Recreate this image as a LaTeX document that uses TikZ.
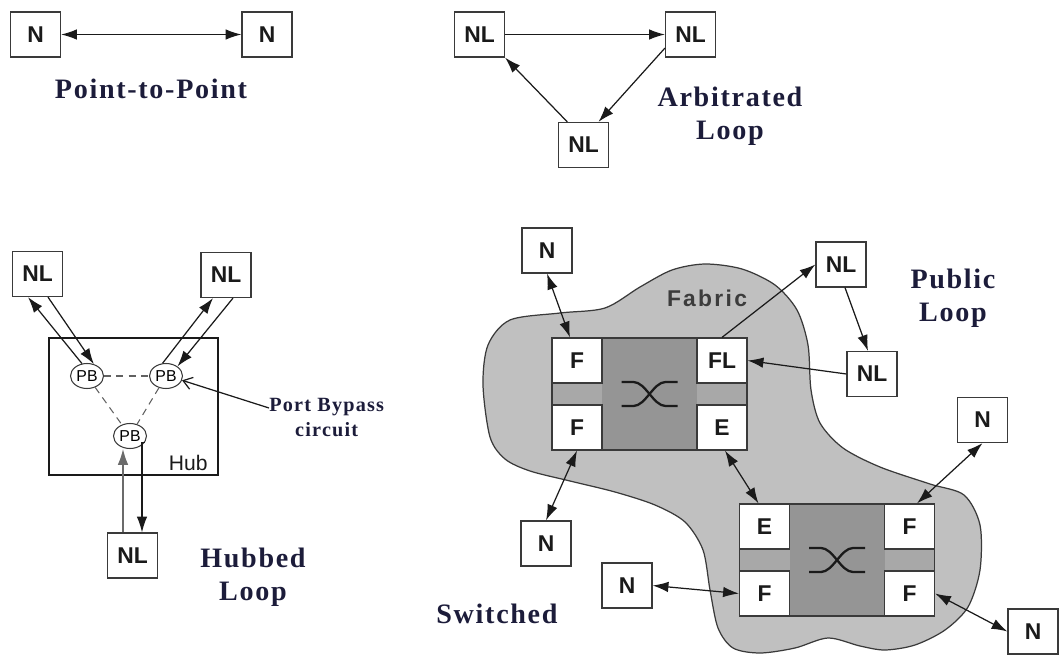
\documentclass[tikz,border=0pt]{standalone}
\usepackage{fontspec}
\usepackage{tikz}
\usetikzlibrary{arrows.meta,shapes.geometric}
\setmainfont{Liberation Serif}
\newfontfamily\boxfont{Liberation Sans}
\newfontfamily\tagfont[LetterSpace=10]{Liberation Sans}
\newfontfamily\capfont[LetterSpace=6]{Liberation Serif}

\begin{document}
\begin{tikzpicture}[x=0.02cm, y=-0.02cm]

% Colours
\definecolor{inkBlack}{HTML}{1A1A1A}
\definecolor{edgeGray}{HTML}{3A3A3A}
\definecolor{capNavy}{HTML}{1C1C3A}
\definecolor{fabricGray}{HTML}{C0C0C0}
\definecolor{bandGray}{HTML}{A8A8A8}
\definecolor{coreGray}{HTML}{959595}

\tikzset{
  box/.style={draw=edgeGray, fill=white, line width=0.7pt, minimum width=1cm,
    minimum height=0.9cm, inner sep=0pt, text=inkBlack,
    font=\boxfont\bfseries\fontsize{13}{15}\selectfont},
  pb/.style={ellipse, draw=edgeGray, fill=white, line width=0.6pt,
    minimum width=0.66cm, minimum height=0.5cm, inner sep=0pt,
    font=\boxfont\fontsize{9}{10}\selectfont},
  caption/.style={font=\capfont\bfseries\fontsize{16}{19}\selectfont,
    text=capNavy, align=center},
  link/.style={draw=inkBlack, line width=0.7pt},
  oneway/.style={-{Latex[length=9pt,width=6pt]}},
  twoway/.style={{Latex[length=9pt,width=6pt]}-{Latex[length=9pt,width=6pt]}},
  loopdash/.style={draw=edgeGray!80, line width=0.6pt, dash pattern=on 4pt off 3pt},
  xbar/.style={draw=inkBlack, line width=1.3pt},
}

\useasboundingbox (0,0) rectangle (1061,655);

% Point-to-Point
\node[box] (n1) at (35.5,34.5) {N};
\node[box] (n2) at (267,34.5) {N};
\draw[link, twoway] (n1) -- (n2);
\node[caption] (ptp) at (151,89) {Point-to-Point};

% Arbitrated Loop
\node[box] (al1) at (479.5,34.5) {NL};
\node[box] (al2) at (690.5,34.5) {NL};
\node[box] (al3) at (583.5,145) {NL};
\draw[link, oneway] (al1) -- (al2);
\draw[link, oneway] (al2.208) -- (al3.57);
\draw[link, oneway] (al3.125) -- (al1.south east);
\node[caption] (arb) at (730,116) {Arbitrated\\Loop};

% Hubbed Loop
\node[draw=inkBlack, line width=0.7pt, minimum width=3.38cm, minimum height=2.74cm] (hub) at (133.5,406.5) {};
\node[anchor=south east, inner sep=1pt, font=\boxfont\fontsize{12}{14}\selectfont, text=inkBlack]
  (hubname) at ([shift={(-0.18cm,0.06cm)}]hub.south east) {Hub};
\node[box] (hl1) at (37.5,274) {NL};
\node[box] (hl2) at (226,275) {NL};
\node[box] (hl3) at (132.5,555.5) {NL};
\node[pb] (pbA) at (87,376) {PB};
\node[pb] (pbB) at (166,376) {PB};
\node[pb] (pbC) at (130,436) {PB};
\draw[loopdash] (pbA) -- (pbB);
\draw[loopdash] (pbA) -- (pbC);
\draw[loopdash] (pbB) -- (pbC);
\draw[link, oneway] (pbA.112) -- ([xshift=-0.19cm]hl1.south);
\draw[link, oneway] ([xshift=0.21cm]hl1.south) -- (pbA.60);
\draw[link, oneway] (pbB.105) -- ([xshift=-0.26cm]hl2.south);
\draw[link, oneway] ([xshift=0.14cm]hl2.south) -- (pbB.40);
\draw[link, draw=edgeGray!75, oneway] ([xshift=-0.19cm]hl3.north) -- ([xshift=-0.19cm]hl3.north |- pbC.south);
\draw[link, oneway] (pbC.-25) -| ([xshift=0.19cm]hl3.north);
\node[anchor=north west, inner sep=0pt, align=center, text=capNavy,
  font=\capfont\bfseries\fontsize{11.5}{14}\selectfont] (pbnote) at (269,398) {Port Bypass\\circuit};
\draw[link, -{Straight Barb[length=5pt,width=7pt]}] ([yshift=-0.2cm]pbnote.north west) -- (pbB.-15);
\node[caption] (hubbed) at (253,577) {Hubbed\\Loop};

% Fabric
\draw[edgeGray, line width=0.7pt, fill=fabricGray] plot[smooth cycle] coordinates {
  (483,385) (488,345) (510,320) (560,313) (605,308) (640,287) (672,270) (705,264)
  (742,269) (775,285) (797,310) (808,345) (811,390) (820,423) (843,448) (880,467)
  (930,484) (964,495) (980,525) (980,570) (968,607) (945,630) (915,645) (885,650)
  (860,646) (828,638) (795,648) (760,653) (733,648) (718,628) (710,590) (703,550)
  (685,522) (655,505) (615,492) (570,481) (530,471) (505,459) (490,437)};
\node[font=\tagfont\bfseries\fontsize{13}{15}\selectfont, text=inkBlack!85] (fabric) at (707,298) {Fabric};

% Switch 1
\begin{scope}[shift={(649.5,394)}]
  \fill[bandGray] (-97.5,-56) rectangle (97.5,56);
  \fill[coreGray] (-47.5,-56) rectangle (47.5,56);
  \node[box] (s1a) at (-72.5,-33.5) {F};
  \node[box] (s1b) at (72.5,-33.5) {FL};
  \node[box] (s1c) at (-72.5,33.5) {F};
  \node[box] (s1d) at (72.5,33.5) {E};
  \draw[edgeGray, line width=0.7pt] (-97.5,-56) rectangle (97.5,56);
  \draw[xbar] (-28,-12) -- (-16,-12) .. controls (-4,-12) and (4,12) .. (16,12) -- (28,12);
  \draw[xbar] (-28,12) -- (-16,12) .. controls (-4,12) and (4,-12) .. (16,-12) -- (28,-12);
\end{scope}

% Switch 2
\begin{scope}[shift={(837,560)}]
  \fill[bandGray] (-97.5,-56) rectangle (97.5,56);
  \fill[coreGray] (-47.5,-56) rectangle (47.5,56);
  \node[box] (s2a) at (-72.5,-33.5) {E};
  \node[box] (s2b) at (72.5,-33.5) {F};
  \node[box] (s2c) at (-72.5,33.5) {F};
  \node[box] (s2d) at (72.5,33.5) {F};
  \draw[edgeGray, line width=0.7pt] (-97.5,-56) rectangle (97.5,56);
  \draw[xbar] (-28,-12) -- (-16,-12) .. controls (-4,-12) and (4,12) .. (16,12) -- (28,12);
  \draw[xbar] (-28,12) -- (-16,12) .. controls (-4,12) and (4,-12) .. (16,-12) -- (28,-12);
\end{scope}

% Nodes round the fabric
\node[box] (nT) at (547,250.5) {N};
\node[box] (nlP) at (841,264.5) {NL};
\node[box] (nlQ) at (872,374) {NL};
\node[box] (nR) at (982.5,420) {N};
\node[box] (nS) at (546,543.5) {N};
\node[box] (nU) at (627,585.5) {N};
\node[box] (nV) at (1033,631.5) {N};

\draw[link, twoway] (nT.south) -- ([xshift=-0.14cm]s1a.north);
\draw[link, oneway] (s1b.north) -- (nlP.west);
\draw[link, oneway] ([xshift=0.08cm]nlP.south) -- ([xshift=-0.08cm]nlQ.north);
\draw[link, oneway] (nlQ.west) -- (s1b.east);
\draw[link, twoway] (s1c.south) -- (nS.north);
\draw[link, twoway] ([xshift=0.06cm]s1d.south) -- ([xshift=-0.12cm]s2a.north);
\draw[link, twoway] (nR.south) -- ([xshift=0.15cm]s2b.north);
\draw[link, twoway] (nU.east) -- (s2c.west);
\draw[link, twoway] (s2d.east) -- (nV.west);

% Captions
\node[caption] (pub) at (953,298) {Public\\Loop};
\node[caption] (sw) at (497,614) {Switched};

\end{tikzpicture}
\end{document}
